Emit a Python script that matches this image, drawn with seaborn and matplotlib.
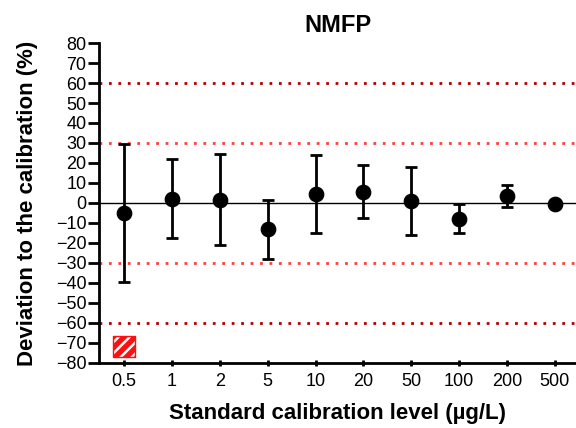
import matplotlib
matplotlib.use("Agg")
import matplotlib.pyplot as plt
import seaborn as sns
import pandas as pd

# Data

levels = ["0.5", "1", "2", "5", "10", "20", "50", "100", "200", "500"]
mean_dev = [-5.0, 2.2, 1.5, -13.2, 4.5, 5.7, 1.2, -7.8, 3.5, -0.5]
upper_dev = [29.3, 22.0, 24.3, 1.3, 24.0, 19.0, 18.2, -0.7, 9.0, -0.5]
lower_dev = [-39.5, -17.7, -21.0, -27.8, -15.0, -7.7, -16.0, -14.8, -2.2, -0.5]

flag_levels = ["0.5"]
flag_values = [-72]

outer_limits = [60, -60]
inner_limits = [30, -30]

df = pd.DataFrame({
    "level": levels,
    "mean": mean_dev,
    "upper": upper_dev,
    "lower": lower_dev
})

sns.set_style("ticks", {
    "axes.edgecolor": "black",
    "text.color": "black",
    "axes.labelcolor": "black",
    "xtick.color": "black",
    "ytick.color": "black"
})
plt.rcParams["font.family"] = ["Liberation Sans", "DejaVu Sans"]
plt.rcParams["hatch.linewidth"] = 1.8

fig = plt.figure(figsize=(5.76, 4.28), dpi=100)
ax = fig.add_axes([0.172, 0.152, 0.828, 0.7475])

# Reference lines

for v in outer_limits:
    ax.axhline(v, color="#b00000", lw=2, linestyle=(0, (1, 2.4)), zorder=1)

for v in inner_limits:
    ax.axhline(v, color="#ff4040", lw=2, linestyle=(0, (1, 2.4)), zorder=1)

ax.axhline(0, color="black", lw=1, zorder=1)

# Error bars and points

ax.errorbar(
    df["level"],
    df["mean"],
    yerr=[df["mean"] - df["lower"], df["upper"] - df["mean"]],
    fmt="none",
    ecolor="black",
    elinewidth=2,
    capsize=4.5,
    capthick=2,
    zorder=2
)

sns.scatterplot(
    data=df,
    x="level",
    y="mean",
    color="black",
    s=110,
    edgecolor="black",
    zorder=3,
    ax=ax
)

# Flag marker: red square with white hatching

ax.scatter(
    flag_levels,
    flag_values,
    marker="s",
    s=230,
    facecolor="#ff1010",
    edgecolor="white",
    hatch="///",
    linewidths=0,
    zorder=3
)

ax.scatter(
    flag_levels,
    flag_values,
    marker="s",
    s=230,
    facecolor="none",
    edgecolor="#ff1010",
    linewidths=1,
    zorder=4
)

ax.set_xlim(-0.52, len(levels) - 0.56)
ax.set_ylim(-80, 80)
ax.set_yticks(range(-80, 81, 10))

sns.despine(ax=ax)
ax.spines["left"].set_linewidth(2)
ax.spines["bottom"].set_linewidth(2)

ax.tick_params(axis="y", direction="out", length=8, width=2, labelsize=13, pad=1)
ax.tick_params(axis="x", direction="inout", length=5, width=2, labelsize=13, pad=5)

ax.set_xlabel("Standard calibration level (µg/L)", fontsize=16, fontweight="bold", labelpad=9)
ax.set_ylabel("Deviation to the calibration (%)", fontsize=16, fontweight="bold", labelpad=13)
ax.set_title("NMFP", fontsize=17, fontweight="bold", pad=8)

plt.savefig("out.png", dpi=100)
